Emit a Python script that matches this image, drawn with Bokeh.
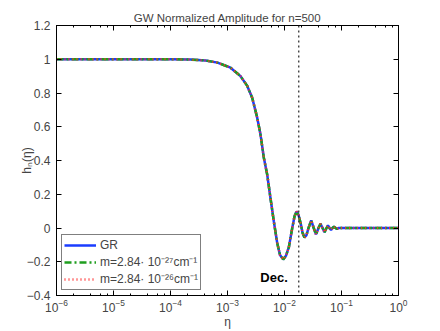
from bokeh.plotting import figure
from bokeh.models import Span, Label, LogAxis, LinearAxis, FixedTicker, LogTicker, CustomJSTickFormatter
from bokeh.embed import file_html
from bokeh.resources import INLINE

# ---- data ----
eta = [1e-6, 1e-5, 1e-4, 2.24e-4, 4.11e-4, 6.68e-4, 1.13e-3, 1.69e-3, 2.22e-3,
       2.71e-3, 3.32e-3, 3.79e-3, 4.34e-3, 4.97e-3, 5.67e-3, 6.49e-3, 7.45e-3,
       8.34e-3, 9.48e-3, 1.06e-2, 1.19e-2, 1.36e-2, 1.50e-2, 1.63e-2, 1.76e-2,
       1.93e-2, 2.07e-2, 2.24e-2, 2.43e-2, 2.64e-2, 2.94e-2, 3.23e-2, 3.57e-2,
       3.95e-2, 4.28e-2, 4.65e-2, 5.04e-2, 5.46e-2, 5.79e-2, 6.15e-2, 6.55e-2,
       6.95e-2, 7.38e-2, 7.85e-2, 8.34e-2, 8.85e-2, 0.1, 0.3, 1.0]
h_gr = [1.0, 1.0, 1.0, 0.998, 0.993, 0.98, 0.95, 0.90, 0.842,
        0.772, 0.654, 0.555, 0.416, 0.317, 0.178, 0.040, -0.089,
        -0.16, -0.186, -0.165, -0.115, -0.005, 0.07, 0.098, 0.078,
        0.025, -0.028, -0.056, -0.042, 0.0, 0.045, 0.003, -0.038,
        0.0, 0.025, 0.0, -0.025, 0.0, 0.015, 0.0, -0.012,
        0.0, 0.008, 0.0, -0.006, 0.0, 0.0, 0.0, 0.0]
# massive-graviton curves are indistinguishable from GR in the picture
h_m27 = list(h_gr)
h_m26 = list(h_gr)
eta_dec = 0.0178
y_ticks = [-0.4, -0.2, 0.0, 0.2, 0.4, 0.6, 0.8, 1.0, 1.2]
labels = ["GR", "m=2.84\u00b7 10\u207b\u00b2\u2077cm\u207b\u00b9",
          "m=2.84\u00b7 10\u207b\u00b2\u2076cm\u207b\u00b9"]

FONT = "Liberation Sans"

p = figure(width=440, height=331, x_axis_type="log", x_range=(1e-6, 1),
           y_range=(-0.4, 1.2), output_backend="svg", toolbar_location=None,
           min_border_left=56, min_border_right=42, min_border_top=25,
           min_border_bottom=36, title="GW Normalized Amplitude for n=500")
p.title.text_font = FONT
p.title.text_font_size = "11.5px"
p.title.text_font_style = "normal"
p.title.align = "center"
p.title.standoff = 3
p.grid.visible = False
p.outline_line_color = "black"
p.background_fill_color = "white"

p.line(eta, h_gr, line_color="#1a3cff", line_width=2.5, legend_label=labels[0])
p.line(eta, h_m27, line_color="#1f9e1f", line_width=2.5, line_dash="7 3 2 3",
       legend_label=labels[1])
p.line(eta, h_m26, line_color="#ff3030", line_width=2.5, line_dash="1 3",
       legend_label=labels[2])

p.add_layout(Span(location=eta_dec, dimension="height", line_color="#222222",
                  line_width=1.2, line_dash="2 3"))
p.add_layout(Label(x=eta_dec, y=-0.293, x_offset=-11, text="Dec.",
                   text_align="right", text_baseline="alphabetic",
                   text_font=FONT, text_font_size="13px",
                   text_font_style="bold", text_color="black"))

xa = p.xaxis[0]
xa.ticker = LogTicker(desired_num_ticks=7)
xa.axis_label = "\u03b7"
ya = p.yaxis[0]
ya.ticker = FixedTicker(ticks=y_ticks)
ya.formatter = CustomJSTickFormatter(
    code="return (Math.round(tick*10)/10).toString().replace('-', '\u2212');")
ya.axis_label = "h\u2099(\u03b7)"
for ax in (xa, ya):
    ax.axis_label_text_font = FONT
    ax.axis_label_text_font_size = "12px"
    ax.axis_label_text_font_style = "normal"
    ax.major_label_text_font = FONT
    ax.major_label_text_font_size = "12px"
    ax.major_tick_in = 5
    ax.major_tick_out = 0
    ax.minor_tick_in = 2
    ax.minor_tick_out = 0
    ax.axis_line_color = "black"
    ax.major_tick_line_color = "black"
    ax.minor_tick_line_color = "black"
xa.major_label_standoff = 3
xa.axis_label_standoff = 0
ya.minor_tick_line_color = None
ya.major_label_standoff = 6
ya.axis_label_standoff = -10

top = LogAxis(ticker=LogTicker(desired_num_ticks=7),
              formatter=CustomJSTickFormatter(code="return '';"))
right = LinearAxis(ticker=FixedTicker(ticks=y_ticks),
                   formatter=CustomJSTickFormatter(code="return '';"))
for ax in (top, right):
    ax.major_tick_in = 5
    ax.major_tick_out = 0
    ax.minor_tick_in = 2
    ax.minor_tick_out = 0
    ax.major_label_text_font_size = "0px"
    ax.major_label_standoff = 0
    ax.axis_line_color = "black"
right.minor_tick_line_color = None
p.add_layout(top, "above")
p.add_layout(right, "right")

lg = p.legend[0]
lg.location = "bottom_left"
lg.margin = 5
lg.padding = 2
lg.spacing = 0
lg.label_height = 16
lg.glyph_height = 16
lg.glyph_width = 32
lg.label_standoff = 4
lg.label_text_font = FONT
lg.label_text_font_size = "12px"
lg.border_line_color = "black"
lg.border_line_width = 1
lg.background_fill_alpha = 1.0

open("out.html", "w").write(file_html(p, INLINE))
